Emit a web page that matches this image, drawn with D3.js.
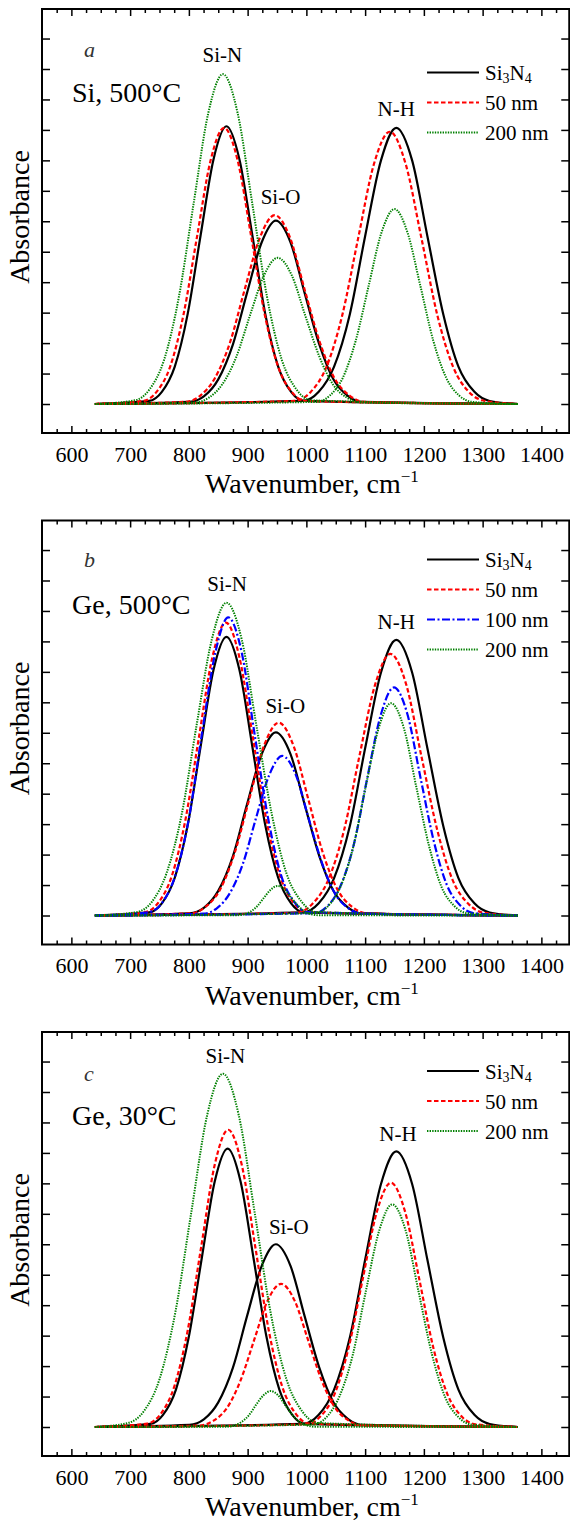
<!DOCTYPE html>
<html>
<head>
<meta charset="utf-8">
<script src="https://cdn.jsdelivr.net/npm/d3@7"></script>
<style>
  body { margin: 0; background: #fff; }
  svg { display: block; font-family: "Liberation Serif", "Times New Roman", serif; }
</style>
</head>
<body>
<svg id="chart" width="570" height="1521"></svg>
<script>
// fitted band components: [wavenumber, absorbance]
// each series = [Si-N band, Si-O band, N-H band]

// panel a : Si, 500°C
const aSi3N4 = [
  [[732,.010],[754,.040],[776,.123],[798,.296],[820,.554],[842,.804],[864,.912],[886,.804],[908,.554],[930,.296],[952,.123],[974,.040],[996,.010]],
  [[801,.007],[826,.026],[850,.081],[875,.196],[899,.365],[924,.531],[948,.602],[973,.531],[997,.365],[1022,.196],[1046,.081],[1071,.026],[1095,.007]],
  [[994,.010],[1021,.040],[1047,.122],[1074,.295],[1100,.551],[1127,.800],[1153,.907],[1180,.800],[1206,.551],[1233,.295],[1259,.122],[1286,.040],[1312,.010]]
]
const a50nm = [
  [[722,.010],[745,.040],[768,.122],[791,.295],[814,.551],[837,.800],[860,.907],[883,.800],[906,.551],[929,.295],[952,.122],[975,.040],[998,.010]],
  [[793,.007],[819,.027],[844,.084],[870,.202],[895,.376],[921,.547],[946,.620],[972,.547],[997,.376],[1023,.202],[1048,.084],[1074,.027],[1099,.007]],
  [[980,.010],[1007,.039],[1034,.121],[1061,.291],[1088,.543],[1115,.788],[1142,.894],[1169,.788],[1196,.543],[1223,.291],[1250,.121],[1277,.039],[1304,.010]]
]
const a200nm = [
  [[708,.012],[733,.048],[758,.146],[783,.352],[808,.657],[833,.955],[858,1.083],[883,.955],[908,.657],[933,.352],[958,.146],[983,.048],[1008,.012]],
  [[810,.005],[834,.021],[857,.065],[881,.156],[904,.291],[928,.423],[951,.480],[975,.423],[998,.291],[1022,.156],[1045,.065],[1069,.021],[1092,.005]],
  [[1018,.007],[1040,.028],[1062,.086],[1084,.208],[1106,.388],[1128,.564],[1150,.640],[1172,.564],[1194,.388],[1216,.208],[1238,.086],[1260,.028],[1282,.007]]
]

// panel b : Ge, 500°C
const bSi3N4 = [
  [[732,.010],[754,.040],[776,.124],[798,.297],[820,.555],[842,.807],[864,.915],[886,.807],[908,.555],[930,.297],[952,.124],[974,.040],[996,.010]],
  [[801,.007],[826,.026],[850,.081],[875,.195],[899,.365],[924,.530],[948,.601],[973,.530],[997,.365],[1022,.195],[1046,.081],[1071,.026],[1095,.007]],
  [[994,.010],[1021,.040],[1047,.122],[1074,.294],[1100,.549],[1127,.798],[1153,.905],[1180,.798],[1206,.549],[1233,.294],[1259,.122],[1286,.040],[1312,.010]]
]
const b50nm = [
  [[725,.011],[748,.042],[771,.130],[794,.313],[817,.584],[840,.848],[863,.962],[886,.848],[909,.584],[932,.313],[955,.130],[978,.042],[1001,.011]],
  [[803,.007],[828,.028],[853,.085],[878,.206],[903,.384],[928,.558],[953,.633],[978,.558],[1003,.384],[1028,.206],[1053,.085],[1078,.028],[1103,.007]],
  [[984,.009],[1010,.038],[1037,.116],[1064,.279],[1090,.521],[1117,.758],[1143,.859],[1170,.758],[1196,.521],[1223,.279],[1249,.116],[1276,.038],[1302,.009]]
]
const b100nm = [
  [[732,.011],[755,.043],[777,.132],[800,.318],[822,.594],[845,.863],[867,.979],[890,.863],[912,.594],[935,.318],[957,.132],[980,.043],[1002,.011]],
  [[824,.006],[847,.023],[869,.071],[892,.170],[914,.318],[937,.462],[959,.524],[982,.462],[1004,.318],[1027,.170],[1049,.071],[1072,.023],[1094,.006]],
  [[1014,.008],[1037,.033],[1059,.101],[1082,.243],[1104,.455],[1127,.661],[1149,.749],[1172,.661],[1194,.455],[1217,.243],[1239,.101],[1262,.033],[1284,.008]]
]
const b200nm = [
  [[711,.011],[737,.045],[762,.139],[788,.334],[813,.623],[839,.906],[864,1.027],[890,.906],[915,.623],[941,.334],[966,.139],[992,.045],[1017,.011]],
  [[882,.001],[894,.004],[905,.013],[917,.032],[928,.059],[940,.086],[951,.097],[963,.086],[974,.059],[986,.032],[997,.013],[1009,.004],[1020,.001]],
  [[1015,.008],[1037,.031],[1058,.094],[1080,.227],[1101,.423],[1123,.615],[1144,.697],[1166,.615],[1187,.423],[1209,.227],[1230,.094],[1252,.031],[1273,.008]]
]

// panel c : Ge, 30°C
const cSi3N4 = [
  [[734,.010],[756,.040],[778,.123],[800,.297],[822,.555],[844,.806],[866,.914],[888,.806],[910,.555],[932,.297],[954,.123],[976,.040],[998,.010]],
  [[801,.007],[826,.026],[850,.081],[875,.195],[899,.364],[924,.529],[948,.600],[973,.529],[997,.364],[1022,.195],[1046,.081],[1071,.026],[1095,.007]],
  [[994,.010],[1021,.040],[1047,.122],[1074,.294],[1100,.549],[1127,.798],[1153,.905],[1180,.798],[1206,.549],[1233,.294],[1259,.122],[1286,.040],[1312,.010]]
]
const c50nm = [
  [[729,.011],[752,.043],[775,.132],[798,.317],[821,.592],[844,.861],[867,.976],[890,.861],[913,.592],[936,.317],[959,.132],[982,.043],[1005,.011]],
  [[819,.005],[842,.021],[865,.063],[888,.153],[911,.285],[934,.415],[957,.470],[980,.415],[1003,.285],[1026,.153],[1049,.063],[1072,.021],[1095,.005]],
  [[1000,.009],[1024,.035],[1048,.108],[1072,.261],[1096,.487],[1120,.707],[1144,.802],[1168,.707],[1192,.487],[1216,.261],[1240,.108],[1264,.035],[1288,.009]]
]
const c200nm = [
  [[696,.013],[723,.051],[750,.157],[777,.377],[804,.704],[831,1.023],[858,1.160],[885,1.023],[912,.704],[939,.377],[966,.157],[993,.051],[1020,.013]],
  [[864,.001],[877,.005],[889,.016],[902,.038],[914,.072],[927,.104],[939,.118],[952,.104],[964,.072],[977,.038],[989,.016],[1002,.005],[1014,.001]],
  [[1011,.008],[1034,.032],[1056,.099],[1079,.237],[1101,.444],[1124,.645],[1146,.731],[1169,.645],[1191,.444],[1214,.237],[1236,.099],[1259,.032],[1281,.008]]
]

const scanRange = [640, 1360]
const xTicks = [600, 700, 800, 900, 1000, 1100, 1200, 1300, 1400]
const bandNames = ['Si-N', 'Si-O', 'N-H']
const panelLetters = ['a', 'b', 'c']
const panelConditions = ['Si, 500°C', 'Ge, 500°C', 'Ge, 30°C']
const panelSeries = [
  [['Si3N4', aSi3N4], ['50 nm', a50nm], ['200 nm', a200nm]],
  [['Si3N4', bSi3N4], ['50 nm', b50nm], ['100 nm', b100nm], ['200 nm', b200nm]],
  [['Si3N4', cSi3N4], ['50 nm', c50nm], ['200 nm', c200nm]]
]

// ---- styles / layout ----
const styles = {
  'Si3N4':  { color: '#000', width: 2.2, dash: null },
  '50 nm':  { color: '#ff0000', width: 2.2, dash: '4.5,2.5' },
  '100 nm': { color: '#0000ff', width: 2.2, dash: '8,2.5,2,2.5' },
  '200 nm': { color: '#008000', width: 2, dash: '1.4,1.2' }
}

// label spots for each panel (wavenumber, absorbance) + legend top
const layout = [
  { bands: [[857, 1.123], [956, 0.657], [1153, 0.947]], letterY: 57, condY: 102, legendY: 72.5 },
  { bands: [[865, 1.067], [964, 0.664], [1153, 0.940]], letterY: 55, condY: 102, legendY: 48 },
  { bands: [[862, 1.196], [970, 0.634], [1156, 0.938]], letterY: 58, condY: 102, legendY: 48 }
]

const svg = d3.select('#chart')
const panelH = 511.5
const plotTop = 9, plotBottom = 433, plotLeft = 42, plotRight = 570.75

let x = d3.scaleLinear().domain([550, 1450]).range([plotLeft, plotRight])
let y = d3.scaleLinear().domain([-0.0952, 1.297]).range([plotBottom, plotTop])

let line = d3.line()
  .x(d => x(d[0]))
  .y(d => y(d[1]))
  .curve(d3.curveMonotoneX)

const minorX = d3.range(575, 1450, 25).filter(v => v % 100 !== 0)
const yTicks = d3.range(0, 1.21, 0.1)

panelSeries.forEach((series, p) => {

  let g = svg.append('g').attr('transform', 'translate(0,' + (p * panelH) + ')')

  // curves
  series.forEach(([name, bands]) => {
    let st = styles[name]
    g.append('g').selectAll('path')
      .data(bands)
      .enter()
      .append('path')
      .attr('d', b => line([[scanRange[0], 0]].concat(b, [[scanRange[1], 0]])))
      .attr('fill', 'none')
      .attr('stroke', st.color)
      .attr('stroke-width', st.width)
      .attr('stroke-dasharray', st.dash)
      .attr('stroke-linejoin', 'round')
  })

  // axes (ticks inward, frame drawn separately)
  let bot = g.append('g').attr('transform', 'translate(0,' + plotBottom + ')')
    .call(d3.axisBottom(x).tickValues(xTicks).tickSize(-7).tickPadding(13).tickFormat(d3.format('d')))
  bot.append('g').call(d3.axisBottom(x).tickValues(minorX).tickSize(-4).tickFormat(''))

  let tp = g.append('g').attr('transform', 'translate(0,' + plotTop + ')')
    .call(d3.axisTop(x).tickValues(xTicks).tickSize(-7).tickFormat(''))
  tp.append('g').call(d3.axisTop(x).tickValues(minorX).tickSize(-4).tickFormat(''))

  g.append('g').attr('transform', 'translate(' + plotLeft + ',0)')
    .call(d3.axisLeft(y).tickValues(yTicks).tickSize(-8).tickFormat(''))
  g.append('g').attr('transform', 'translate(' + (plotRight - 1.5) + ',0)')
    .call(d3.axisRight(y).tickValues(yTicks).tickSize(-8).tickFormat(''))

  g.selectAll('.domain').remove()
  g.selectAll('.tick line').attr('stroke', '#000').attr('stroke-width', 1.5)
  g.selectAll('g').attr('font-family', null)
  g.selectAll('.tick text')
    .attr('font-size', 22)
    .attr('fill', '#000')

  g.append('rect')
    .attr('x', plotLeft).attr('y', plotTop)
    .attr('width', plotRight - 1.5 - plotLeft).attr('height', plotBottom - plotTop)
    .attr('fill', 'none').attr('stroke', '#000').attr('stroke-width', 2)

  // axis titles
  g.append('text')
    .attr('transform', 'translate(29,' + ((plotTop + plotBottom) / 2 - 4) + ') rotate(-90)')
    .attr('text-anchor', 'middle')
    .attr('font-size', 28)
    .text('Absorbance')

  let xt = g.append('text')
    .attr('x', 312).attr('y', 493)
    .attr('text-anchor', 'middle')
    .attr('font-size', 28)
  xt.append('tspan').text('Wavenumber, cm')
  xt.append('tspan').attr('font-size', 17).attr('dy', -11).text('\u22121')

  // panel letter and condition
  let lay = layout[p]
  g.append('text')
    .attr('x', 84).attr('y', lay.letterY)
    .attr('font-size', 22).attr('font-style', 'italic').attr('fill', '#333')
    .text(panelLetters[p])
  g.append('text')
    .attr('x', 72).attr('y', lay.condY)
    .attr('font-size', 28)
    .text(panelConditions[p])

  // band labels
  bandNames.forEach((b, i) => {
    g.append('text')
      .attr('x', x(lay.bands[i][0])).attr('y', y(lay.bands[i][1]))
      .attr('text-anchor', 'middle')
      .attr('font-size', 21)
      .text(b)
  })

  // legend
  series.forEach(([name], i) => {
    let st = styles[name]
    let ly = lay.legendY + i * 30
    g.append('line')
      .attr('x1', 427).attr('x2', 479).attr('y1', ly).attr('y2', ly)
      .attr('stroke', st.color).attr('stroke-width', st.width)
      .attr('stroke-dasharray', st.dash)
    let t = g.append('text')
      .attr('x', 485).attr('y', ly + 7.5)
      .attr('font-size', 21)
    if (name === 'Si3N4') {
      t.append('tspan').text('Si')
      t.append('tspan').attr('font-size', 14).attr('dy', 3).text('3')
      t.append('tspan').attr('dy', -3).text('N')
      t.append('tspan').attr('font-size', 14).attr('dy', 3).text('4')
    } else {
      t.text(name)
    }
  })
})
</script>
</body>
</html>
